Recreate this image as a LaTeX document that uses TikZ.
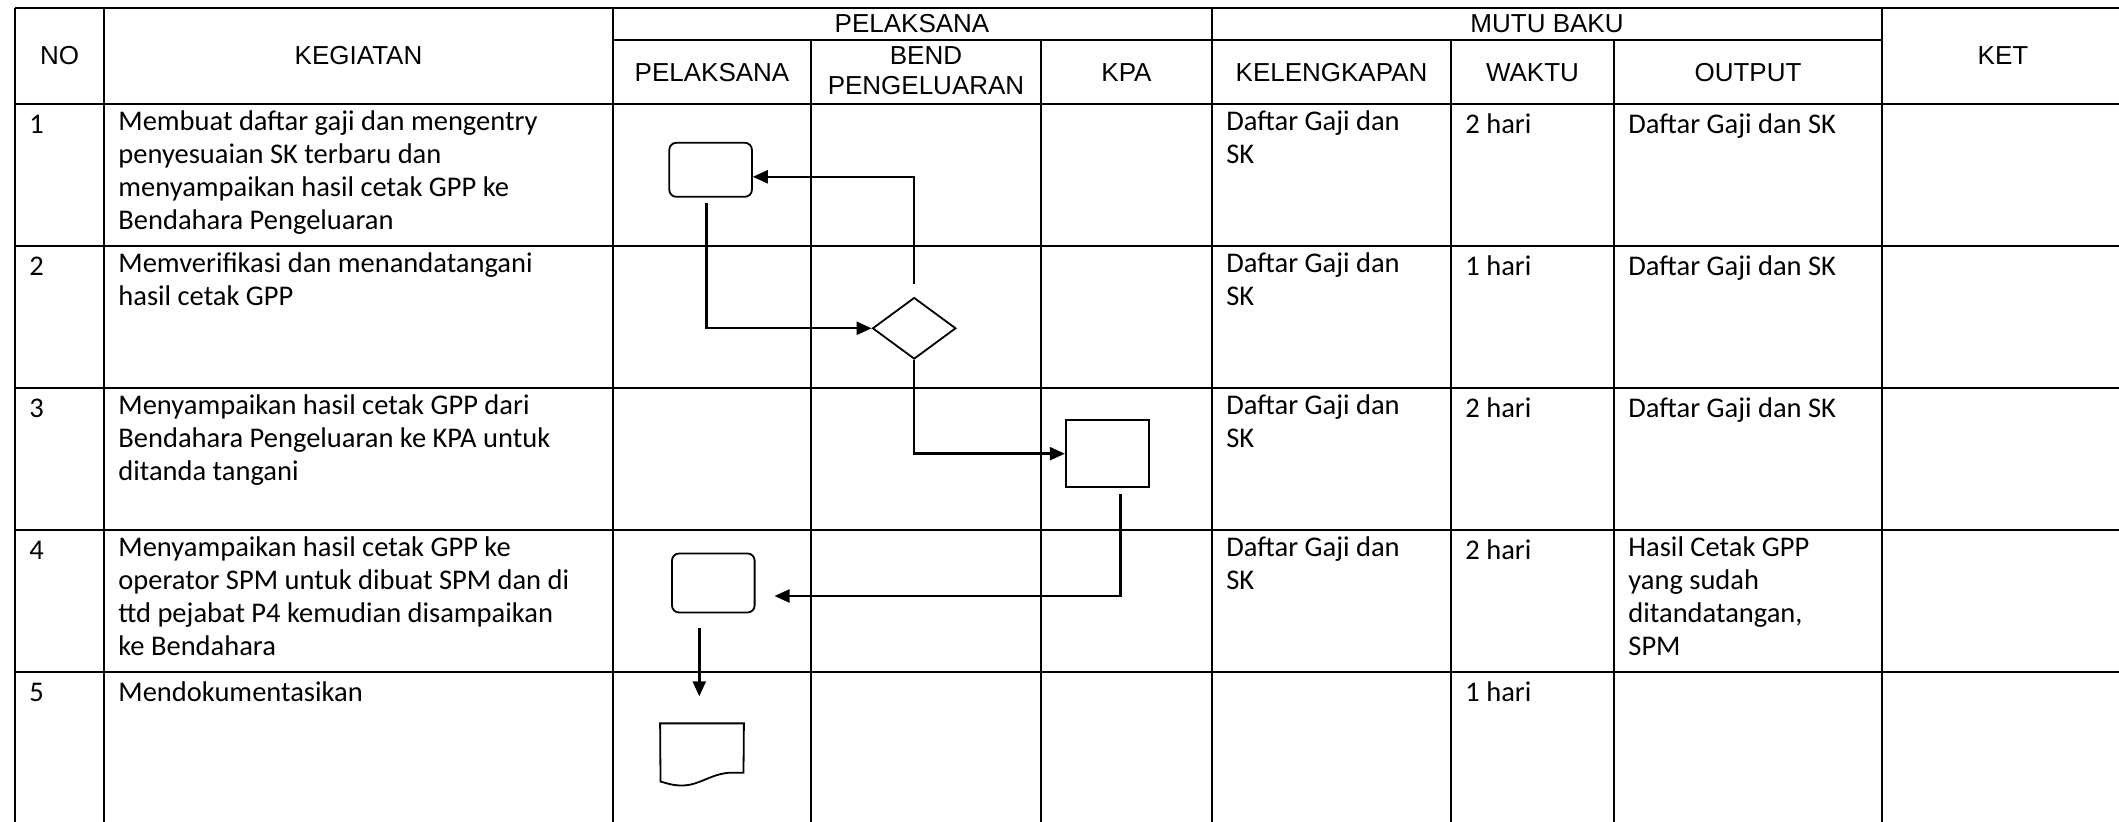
\documentclass[tikz,border=0pt]{standalone}
\usepackage{fontspec}
\setmainfont{Carlito}
\newfontfamily\arialfont{Liberation Sans}
\usetikzlibrary{arrows.meta,shapes.geometric}
\newcommand{\headfont}{\arialfont\fontsize{13}{15}\selectfont}
\newcommand{\cellfont}{\fontsize{14.25}{16.5}\selectfont}

\begin{document}
\begin{tikzpicture}[
  x=0.5pt,y=-0.5pt,
  tabline/.style={line width=1.4pt},
  head/.style={font=\headfont,align=center,inner sep=0pt},
  cell/.style={font=\cellfont,align=left,anchor=north west,inner sep=0pt,
               execute at begin node={\strut}},
  act/.style={rectangle,rounded corners=3.5pt,draw,line width=0.9pt,
              minimum width=41.3pt,minimum height=27pt},
  proc/.style={rectangle,draw,line width=0.9pt,minimum width=41.75pt,minimum height=33.5pt},
  dec/.style={diamond,draw,line width=0.9pt,inner sep=0pt,
              minimum width=41.7pt,minimum height=30.75pt},
  docbox/.style={rectangle,inner sep=0pt,minimum width=41.5pt,minimum height=30.65pt},
  arrow/.style={-{Triangle[length=7.5pt,width=6.5pt]},line width=1.2pt}
]
\fill[white] (0,0) rectangle (2119,822);
\useasboundingbox (0,0) rectangle (2119,822);

% table grid
\draw[tabline] (15,8) -- (2119,8);
\draw[tabline] (613,40) -- (1882,40);
\foreach \y in {104,246,388,530,672}
  \draw[tabline] (15,\y) -- (2119,\y);
\foreach \x in {15,104,613,1212,1882}
  \draw[tabline] (\x,8) -- (\x,822);
\foreach \x in {811,1041,1451,1614}
  \draw[tabline] (\x,40) -- (\x,822);

% header
\node[head] (hno) at (59.5,56) {NO};
\node[head] (hkeg) at (358.5,56) {KEGIATAN};
\node[head] (hpel) at (912,24) {PELAKSANA};
\node[head] (hmutu) at (1547,24) {MUTU BAKU};
\node[head] (hket) at (2003,56) {KET};
\node[head] (hpl) at (712,73) {PELAKSANA};
\node[head] (hbend) at (926,71) {BEND\\PENGELUARAN};
\node[head] (hkpa) at (1126.5,73) {KPA};
\node[head] (hkel) at (1331.5,73) {KELENGKAPAN};
\node[head] (hwkt) at (1532.5,73) {WAKTU};
\node[head] (hout) at (1748,73) {OUTPUT};

% rows (box top = row line + 6)
\node[cell] (no1) at (29,110) {1};
\node[cell] (keg1) at (118,110) {Membuat daftar gaji dan mengentry\\penyesuaian SK terbaru dan\\menyampaikan hasil cetak GPP ke\\Bendahara Pengeluaran};
\node[cell] (kel1) at (1226,110) {Daftar Gaji dan\\SK};
\node[cell] (wkt1) at (1465,110) {2 hari};
\node[cell] (out1) at (1628,110) {Daftar Gaji dan SK};

\node[cell] (no2) at (29,252) {2};
\node[cell] (keg2) at (118,252) {Memverifikasi dan menandatangani\\hasil cetak GPP};
\node[cell] (kel2) at (1226,252) {Daftar Gaji dan\\SK};
\node[cell] (wkt2) at (1465,252) {1 hari};
\node[cell] (out2) at (1628,252) {Daftar Gaji dan SK};

\node[cell] (no3) at (29,394) {3};
\node[cell] (keg3) at (118,394) {Menyampaikan hasil cetak GPP dari\\Bendahara Pengeluaran ke KPA untuk\\ditanda tangani};
\node[cell] (kel3) at (1226,394) {Daftar Gaji dan\\SK};
\node[cell] (wkt3) at (1465,394) {2 hari};
\node[cell] (out3) at (1628,394) {Daftar Gaji dan SK};

\node[cell] (no4) at (29,536) {4};
\node[cell] (keg4) at (118,536) {Menyampaikan hasil cetak GPP ke\\operator SPM untuk dibuat SPM dan di\\ttd pejabat P4 kemudian disampaikan\\ke Bendahara};
\node[cell] (kel4) at (1226,536) {Daftar Gaji dan\\SK};
\node[cell] (wkt4) at (1465,536) {2 hari};
\node[cell] (out4) at (1628,536) {Hasil Cetak GPP\\yang sudah\\ditandatangan,\\SPM};

\node[cell] (no5) at (29,678) {5};
\node[cell] (keg5) at (118,678) {Mendokumentasikan};
\node[cell] (wkt5) at (1465,678) {1 hari};

% flow
\node[act] (act1) at (710.6,169.8) {};
\node[dec] (verif) at (914.2,328.3) {};
\node[proc] (kpa) at (1107.5,453.7) {};
\node[act,minimum height=29.5pt] (act4) at (713.3,583) {};
\node[docbox] (doc) at (702,754.4) {};
\draw[line width=0.9pt] (doc.north west) -- (doc.north east) -- (743.5,772.7) -- (732,772.7)
  .. controls (712,772.7) and (700,785.5) .. (682,785.5)
  .. controls (672,785.5) and (666,783) .. (660.5,781.5) -- cycle;

\draw[arrow,shorten <=6.5pt] (verif.north) |- ([yshift=-3.5pt]act1.east);
\draw[arrow,shorten <=2.5pt] ([xshift=-2pt]act1.south) |- (verif.west);
\draw[arrow] (verif.south) |- (kpa.west);
\draw[arrow,shorten <=3pt,shorten >=9.5pt] ([xshift=6.5pt]kpa.south) |- ([yshift=-6.5pt]act4.east);
\draw[arrow,shorten <=7.5pt,shorten >=13.5pt] ([xshift=-7pt]act4.south) -- ([xshift=-7pt]act4.south |- doc.north);
\end{tikzpicture}
\end{document}
